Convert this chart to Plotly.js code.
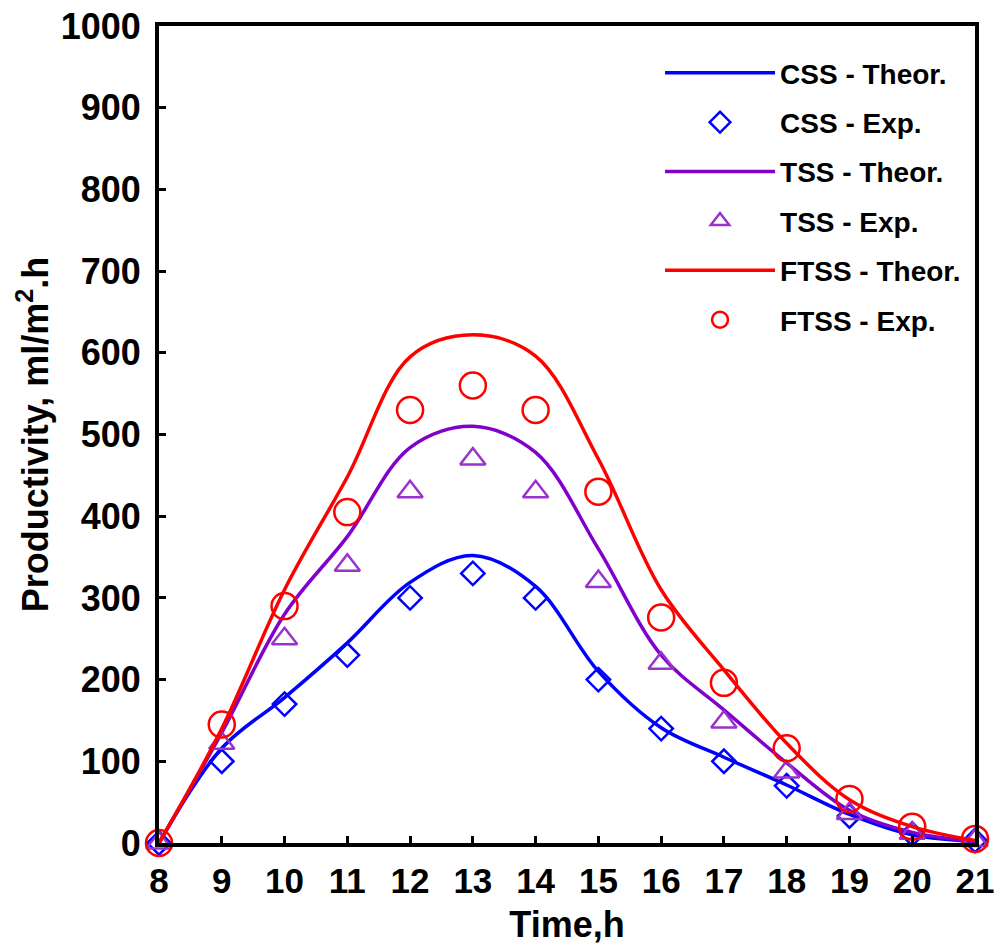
<!DOCTYPE html>
<html>
<head>
<meta charset="utf-8">
<script src="https://cdn.plot.ly/plotly-3.0.1.min.js"></script>
<style>html,body{margin:0;padding:0;background:#fff;}#chart{width:996px;height:950px;}</style>
</head>
<body>
<div id="chart"></div>
<script>
// Time (h)
var hours = [8, 9, 10, 11, 12, 13, 14, 15, 16, 17, 18, 19, 20, 21];

// Theoretical curves (at each hour)
var cssTheor  = [0, 116, 178, 245, 319, 352, 314, 210, 141, 105, 71, 35, 10, 2];
var tssTheor  = [0, 135, 280, 375, 484, 510, 478, 360, 230, 163, 98, 40, 13, 2];
var ftssTheor = [0, 140, 310, 448, 595, 622, 596, 470, 310, 212, 122, 53, 20, 3];

// Experimental points
var cssExp  = [0, 100, 170, 230, 300, 330, 300, 200, 140, 100, 70, 33, 11, 3];
var tssExp  = [0, 122, 250, 340, 430, 470, 430, 320, 220, 148, 87, 36, 12, 3];
var ftssExp = [0, 145, 290, 405, 530, 560, 530, 430, 276, 196, 116, 54, 20, 5];

var names = ['CSS - Theor.', 'CSS - Exp.', 'TSS - Theor.', 'TSS - Exp.', 'FTSS - Theor.', 'FTSS - Exp.'];

var FONT = 'Liberation Sans, Arial, sans-serif';

var traces = [
  {x: hours, y: cssTheor, name: names[0], mode: 'lines', legendgroup: 'g1', cliponaxis: false,
   line: {color: '#0000ff', width: 3.5, shape: 'spline', smoothing: 1}},
  {x: hours, y: cssExp, name: names[1], mode: 'markers', legendgroup: 'g2', cliponaxis: false,
   marker: {symbol: 'diamond-open', size: 18, color: '#0000ff', line: {width: 2.5, color: '#0000ff'}}},
  {x: hours, y: tssTheor, name: names[2], mode: 'lines', legendgroup: 'g3', cliponaxis: false,
   line: {color: '#8000cc', width: 3.5, shape: 'spline', smoothing: 1}},
  {x: hours, y: tssExp, name: names[3], mode: 'markers', legendgroup: 'g4', cliponaxis: false,
   marker: {symbol: 'triangle-up-open', size: 22, color: '#9933cc', line: {width: 2.5, color: '#9933cc'}}},
  {x: hours, y: ftssTheor, name: names[4], mode: 'lines', legendgroup: 'g5', cliponaxis: false,
   line: {color: '#ff0000', width: 3.5, shape: 'spline', smoothing: 1}},
  {x: hours, y: ftssExp, name: names[5], mode: 'markers', legendgroup: 'g6', cliponaxis: false,
   marker: {symbol: 'circle-open', size: 26, color: '#ff0000', line: {width: 2.5, color: '#ff0000'}}}
];

var layout = {
  width: 996, height: 950,
  margin: {l: 159, r: 21, t: 26, b: 107},
  paper_bgcolor: '#fff', plot_bgcolor: '#fff',
  font: {family: FONT, color: '#000', weight: 'bold'},
  showlegend: true,
  legend: {
    x: 0.614, y: 0.973, xanchor: 'left', yanchor: 'top',
    bgcolor: 'rgba(0,0,0,0)', borderwidth: 0,
    font: {family: FONT, size: 28, color: '#000', weight: 'bold'},
    tracegroupgap: 10, itemwidth: 110, itemsizing: 'trace'
  },
  xaxis: {
    range: [8, 21], tickvals: hours, ticktext: hours.map(String),
    showline: true, linewidth: 4, linecolor: '#000', mirror: true,
    ticks: 'inside', ticklen: 7, tickwidth: 3, tickcolor: '#000',
    showgrid: false, zeroline: false,
    tickfont: {family: FONT, size: 35, color: '#000', weight: 'bold'},
    ticklabelstandoff: 4,
    title: {text: 'Time,h', font: {family: FONT, size: 36, color: '#000', weight: 'bold'}, standoff: 14}
  },
  yaxis: {
    range: [0, 1000], dtick: 100, tick0: 0,
    showline: true, linewidth: 4, linecolor: '#000', mirror: true,
    ticks: 'inside', ticklen: 7, tickwidth: 3, tickcolor: '#000',
    showgrid: false, zeroline: false,
    tickfont: {family: FONT, size: 36, color: '#000', weight: 'bold'},
    ticklabelstandoff: 7,
    title: {text: 'Productivity, ml/m<sup>2</sup>.h', font: {family: FONT, size: 36, color: '#000', weight: 'bold'}, standoff: 2}
  }
};

Plotly.newPlot('chart', traces, layout, {displayModeBar: false, staticPlot: true});
</script>
</body>
</html>
